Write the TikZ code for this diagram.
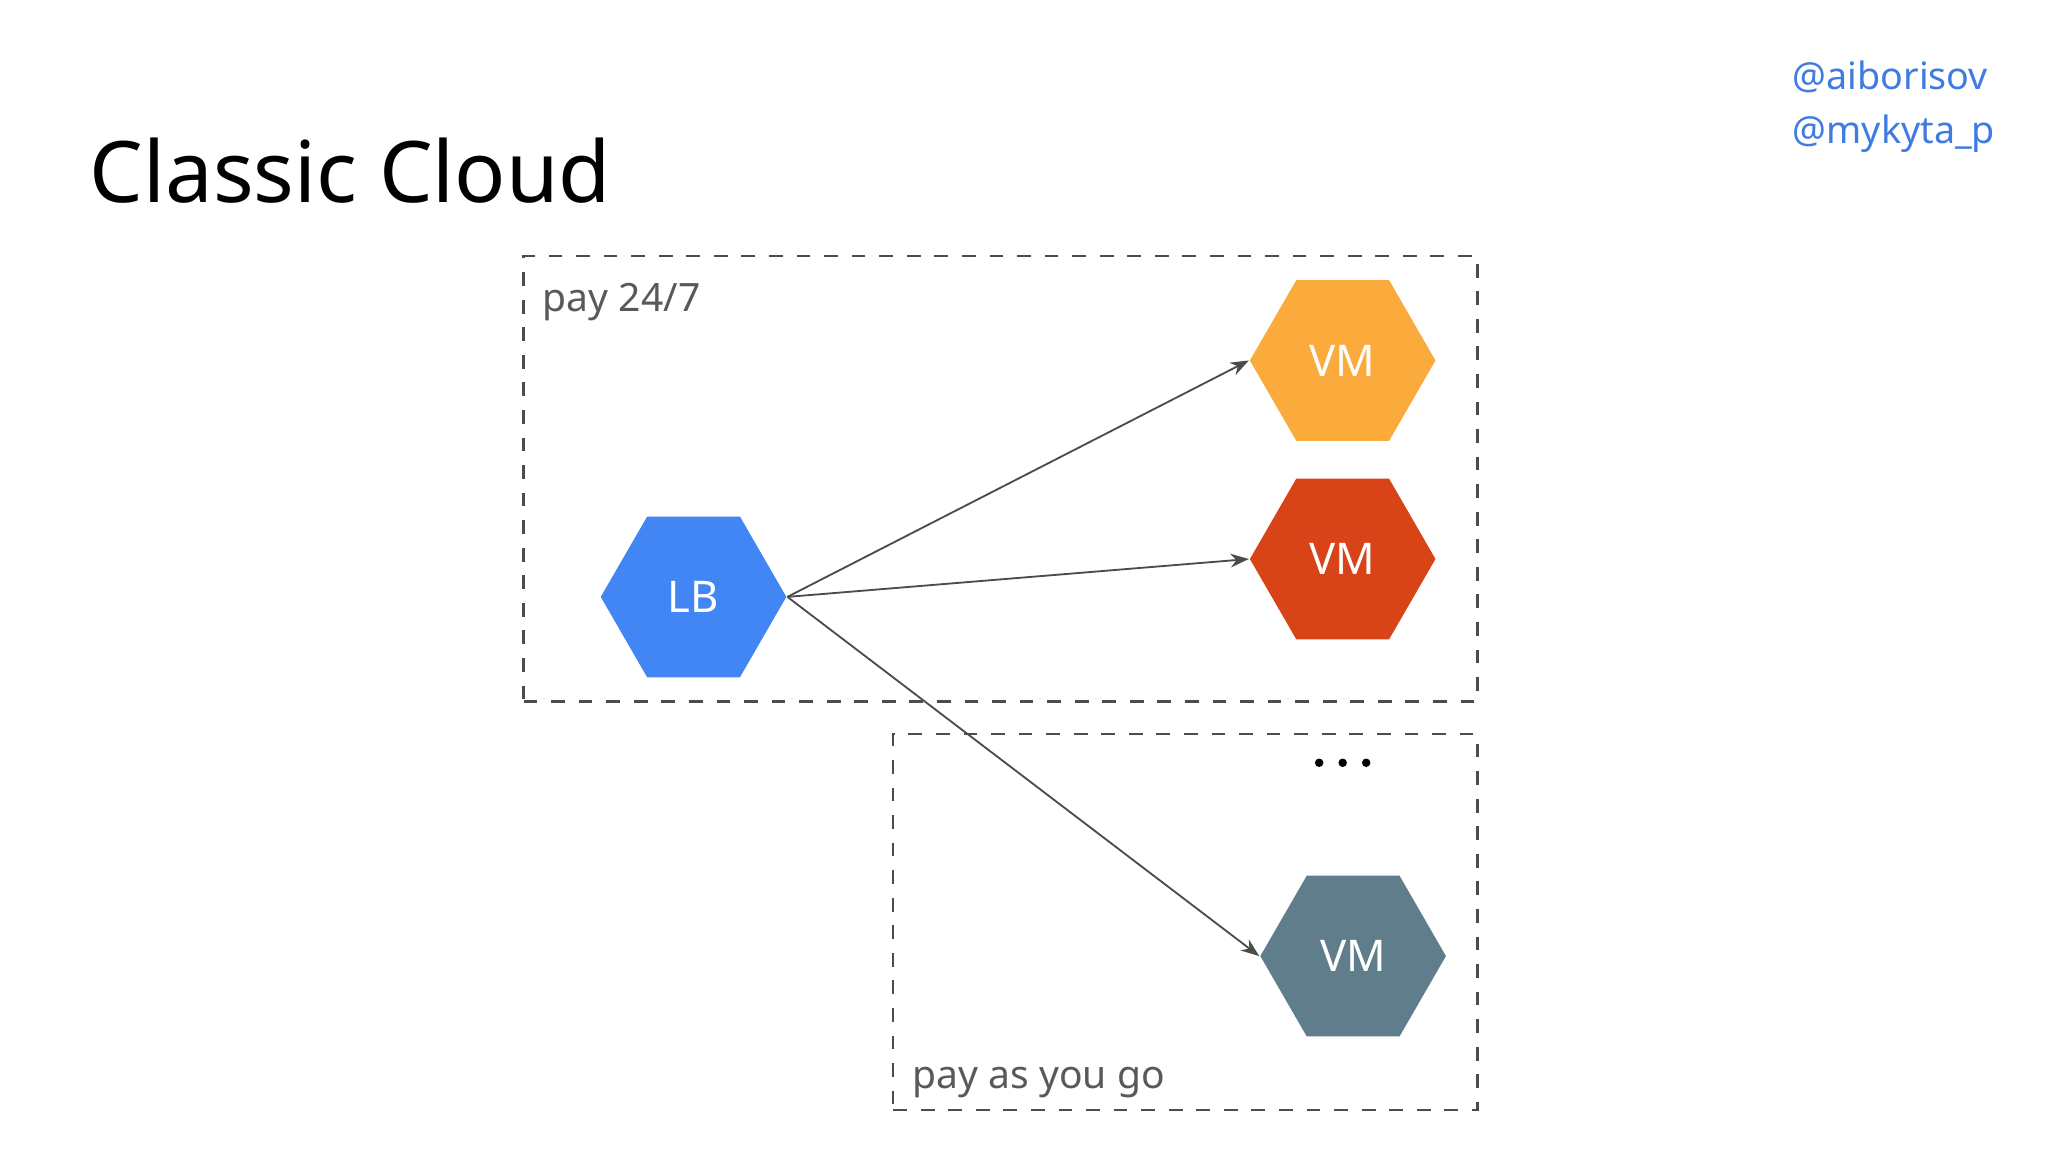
\documentclass[tikz,border=0pt]{standalone}
\usepackage{fontspec}
\setmainfont{Noto Sans}
\usetikzlibrary{shapes.geometric,arrows.meta}
\definecolor{gblue}{HTML}{4285F4}
\definecolor{gorange}{HTML}{FBAA3C}
\definecolor{gred}{HTML}{D84318}
\definecolor{ggray}{HTML}{607D8B}
\definecolor{lnk}{HTML}{3F7BE0}
\begin{document}
\begin{tikzpicture}[x=0.01cm,y=-0.01cm,
  hex/.style={regular polygon,regular polygon sides=6,minimum size=1.42cm,inner sep=0pt,draw=none,text=white,font=\fontsize{9.5}{11}\selectfont},
  box/.style={draw=black!70,dashed,line width=0.5pt},
  lbl/.style={anchor=west,text=black!65,font=\fontsize{8.5}{10}\selectfont},
  dot/.style={circle,fill=black,inner sep=0pt,minimum size=0.065cm},
  arr/.style={draw=black!70,line width=0.4pt,-{Stealth[length=4pt,width=3pt]}}]
\useasboundingbox[fill=white] (0,0) rectangle (1568,882);
\node[anchor=base west,inner sep=0pt,font=\fontsize{18.5}{22}\selectfont] (title) at (68,155) {Classic Cloud};
\node[anchor=west,inner sep=0pt,text=lnk,font=\fontsize{8.2}{10}\selectfont] (h1) at (1372,59) {@aiborisov};
\node[anchor=west,inner sep=0pt,text=lnk,font=\fontsize{8.2}{10}\selectfont] (h2) at (1372,102) {@mykyta\_p};
\node[box,minimum width=7.30cm,minimum height=3.41cm,anchor=north west,inner sep=0pt] (b1) at (400,195) {};
\node[box,minimum width=4.47cm,minimum height=2.88cm,anchor=north west,inner sep=0pt] (b2) at (683,561) {};
\node[lbl,inner sep=0pt] (l1) at (415,231) {pay 24/7};
\node[lbl,inner sep=0pt] (l2) at (698,829) {pay as you go};
\node[hex,fill=gblue] (lb) at (531,457) {LB};
\node[hex,fill=gorange] (vm1) at (1028,276) {VM};
\node[hex,fill=gred] (vm2) at (1028,428) {VM};
\node[hex,fill=ggray] (vm3) at (1036,732) {VM};
\node[dot] (d1) at (1010,584) {};
\node[dot] (d2) at (1028,584) {};
\node[dot] (d3) at (1046,584) {};
\draw[arr] (lb.east) -- (vm1.west);
\draw[arr] (lb.east) -- (vm2.west);
\draw[arr] (lb.east) -- (vm3.west);
\end{tikzpicture}
\end{document}
